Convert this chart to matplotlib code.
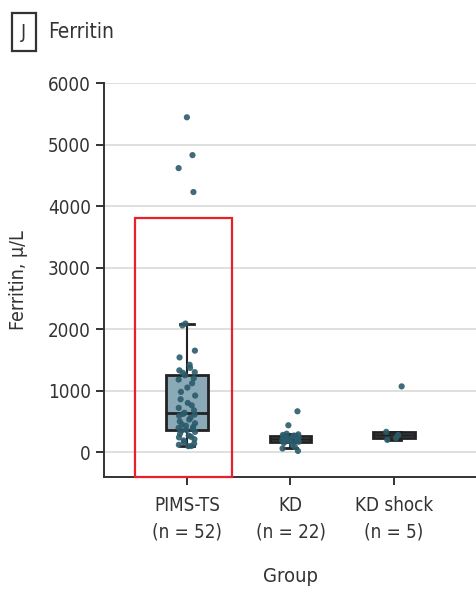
import matplotlib
matplotlib.use("Agg")
import matplotlib.pyplot as plt
from matplotlib.patches import Rectangle
import numpy as np

plt.rcParams['font.family'] = ['DejaVu Sans']
plt.rcParams['font.stretch'] = 'condensed'

groups = ["PIMS-TS\n(n = 52)", "KD\n(n = 22)", "KD shock\n(n = 5)"]
pims = [5443, 4828, 4617, 4228, 2090, 2060, 1650, 1540, 1420, 1370, 1330, 1300, 1290,
        1250, 1200, 1180, 1120, 1050, 980, 920, 860, 800, 760, 720, 680, 640,
        622, 610,
        590, 560, 530, 500, 470, 450, 430, 410, 395, 380,
        360, 350, 330, 300, 270, 250, 240, 210, 190, 160, 140, 120, 100, 97]
kd = [664, 437, 300, 290, 280, 270, 260, 250, 240, 230, 215, 200, 190, 185, 180,
      175, 170, 150, 120, 90, 60, 20]
kd_shock = [1069, 330, 280, 230, 200]
data = [pims, kd, kd_shock]
yticks = [0, 1000, 2000, 3000, 4000, 5000, 6000]

box_fill = "#8aaab8"
pt_color = "#2b5b6b"
edge = "#222222"

fig = plt.figure(figsize=(4.77, 5.93), dpi=100)
ax = fig.add_axes([0.218, 0.196, 0.782, 0.664])

pos = np.arange(len(data))
ax.boxplot(data, positions=pos, widths=0.4, patch_artist=True, showfliers=False,
           capwidths=0.13,
           boxprops=dict(facecolor=box_fill, edgecolor=edge, linewidth=2.0),
           medianprops=dict(color=edge, linewidth=2.0),
           whiskerprops=dict(color=edge, linewidth=1.5),
           capprops=dict(color=edge, linewidth=2.0), zorder=3)

for i, vals in enumerate(data):
    n = len(vals)
    offs = 0.08 * np.sin(np.arange(n) * 2.399 + i)
    ax.scatter(pos[i] + offs, vals, s=20, color=pt_color, alpha=0.9,
               edgecolors='none', zorder=4)

ax.set_xlim(-0.8, 2.8)
ax.set_ylim(-400, 6000)
ax.set_yticks(yticks)
ax.set_yticklabels([str(t) for t in yticks])
ax.set_xticks(pos)
ax.set_xticklabels(groups, linespacing=1.5)
ax.yaxis.grid(True, color="#d9d9d9", linewidth=1.2, zorder=0)
ax.set_axisbelow(True)
for s in ["top", "right"]:
    ax.spines[s].set_visible(False)
for s in ["left", "bottom"]:
    ax.spines[s].set_color("#333333")
    ax.spines[s].set_linewidth(1.4)
ax.spines["left"].set_bounds(-400, 6000)
ax.tick_params(axis='both', colors="#333333", labelsize=13.5, length=6, width=1.4)
ax.tick_params(axis='x', pad=8)
for lab in ax.get_xticklabels() + ax.get_yticklabels():
    lab.set_color("#333333")
ax.set_ylabel("Ferritin, µ/L", fontsize=14, color="#333333", labelpad=14)
ax.set_xlabel("Group", fontsize=14.5, color="#333333", labelpad=18)

ax.add_patch(Rectangle((-0.5, -400), 0.94, 4200, fill=False, edgecolor="#e8202a",
                       linewidth=1.6, zorder=5, clip_on=False))

fig.text(0.05, 0.946, "J", fontsize=14, color="#333333", ha='center', va='center',
         bbox=dict(boxstyle='square,pad=0.5', facecolor='white', edgecolor='#333333',
                   linewidth=1.6))
fig.text(0.1, 0.946, "Ferritin", fontsize=15, color="#333333", ha='left', va='center')

fig.savefig("out.png", dpi=100)
